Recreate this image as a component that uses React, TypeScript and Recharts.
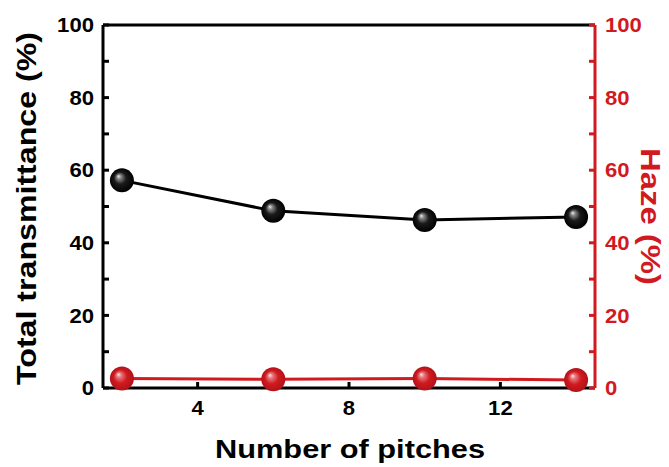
import { LineChart, Line, XAxis, YAxis, ReferenceLine, Label } from "recharts";

const pitches = [2, 6, 10, 14];
const transmittance = [57.2, 48.8, 46.3, 47.1];
const haze = [2.6, 2.4, 2.6, 2.2];

const xTicks = [4, 8, 12];
const yTicks = [0, 10, 20, 30, 40, 50, 60, 70, 80, 90, 100];
const yLabels = [0, 20, 40, 60, 80, 100];

const RED = "#d11a1f";
const FONT = '"Liberation Sans", Arial, sans-serif';

const chartData = pitches.map((p, i) => ({
  pitch: p,
  total: transmittance[i],
  haze: haze[i],
}));

// width of a tick number, the original font is a bit wider than Liberation
const numLen = (v: number) => String(v).length * 12.3;

const Sphere = (fill: string) => (props: any) => {
  const { cx, cy, index } = props;
  if (cx == null || cy == null) return <g key={index} />;
  return <circle key={index} cx={cx} cy={cy} r={12} fill={fill} />;
};

const XTick = (props: any) => {
  const { x, y, payload } = props;
  const v = payload.value;
  return (
    <g>
      <line x1={x} y1={y} x2={x} y2={y - 6} stroke="#000" strokeWidth={3} />
      <text x={x} y={y + 27} textAnchor="middle" fontFamily={FONT} fontWeight="bold" fontSize={20} fill="#000"
        textLength={numLen(v)} lengthAdjust="spacingAndGlyphs">
        {v}
      </text>
    </g>
  );
};

const LeftTick = (props: any) => {
  const { x, y, payload } = props;
  const v = payload.value;
  return (
    <g>
      <line x1={x} y1={y} x2={x + 6} y2={y} stroke="#000" strokeWidth={3} />
      {yLabels.includes(v) && (
        <text x={x - 9} y={y} dy="0.36em" textAnchor="end" fontFamily={FONT} fontWeight="bold" fontSize={20} fill="#000"
          textLength={numLen(v)} lengthAdjust="spacingAndGlyphs">
          {v}
        </text>
      )}
    </g>
  );
};

const RightTick = (props: any) => {
  const { x, y, payload } = props;
  const v = payload.value;
  return (
    <g>
      <line x1={x} y1={y} x2={x - 6} y2={y} stroke={RED} strokeWidth={3} />
      {yLabels.includes(v) && (
        <text x={x + 10} y={y} dy="0.36em" textAnchor="start" fontFamily={FONT} fontWeight="bold" fontSize={20} fill={RED}
          textLength={numLen(v)} lengthAdjust="spacingAndGlyphs">
          {v}
        </text>
      )}
    </g>
  );
};

const LeftTitle = (props: any) => {
  const vb = props.viewBox;
  const cx = vb.x + 26;
  const cy = vb.y + vb.height / 2 + 2;
  return (
    <text x={cx} y={cy} transform={`rotate(-90 ${cx} ${cy})`} textAnchor="middle" dy="0.36em" fontFamily={FONT} fontWeight="bold" fontSize={28} fill="#000"
      textLength={353} lengthAdjust="spacingAndGlyphs">
      Total transmittance (%)
    </text>
  );
};

const RightTitle = (props: any) => {
  const vb = props.viewBox;
  const cx = vb.x + 56;
  const cy = vb.y + vb.height / 2 + 10;
  return (
    <text x={cx} y={cy} transform={`rotate(90 ${cx} ${cy})`} textAnchor="middle" dy="0.36em" fontFamily={FONT} fontWeight="bold" fontSize={28} fill={RED}
      textLength={137} lengthAdjust="spacingAndGlyphs">
      Haze (%)
    </text>
  );
};

const BottomTitle = (props: any) => {
  const vb = props.viewBox;
  return (
    <text x={vb.x + vb.width / 2 + 1} y={vb.y + 70} textAnchor="middle" fontFamily={FONT} fontWeight="bold" fontSize={25} fill="#000"
      textLength={270} lengthAdjust="spacingAndGlyphs">
      Number of pitches
    </text>
  );
};

export default function App() {
  return (
    <div style={{ position: "absolute", left: 0, top: 0, background: "#fff" }}>
      <LineChart width={669} height={467} data={chartData} margin={{ top: 25, right: 0, bottom: 0, left: 0 }}>
        <defs>
          <radialGradient id="ballBlack" cx="50%" cy="50%" r="50%" fx="35%" fy="32%">
            <stop offset="0%" stopColor="#f0f0f0" />
            <stop offset="18%" stopColor="#888" />
            <stop offset="50%" stopColor="#1a1a1a" />
            <stop offset="100%" stopColor="#000" />
          </radialGradient>
          <radialGradient id="ballRed" cx="50%" cy="50%" r="50%" fx="35%" fy="32%">
            <stop offset="0%" stopColor="#fde8ea" />
            <stop offset="20%" stopColor="#e47a80" />
            <stop offset="55%" stopColor={RED} />
            <stop offset="100%" stopColor="#b0121a" />
          </radialGradient>
        </defs>
        <XAxis
          dataKey="pitch"
          type="number"
          domain={[1.5, 14.5]}
          ticks={xTicks}
          allowDataOverflow
          height={79}
          tickSize={0}
          tickMargin={0}
          tickLine={false}
          axisLine={{ stroke: "#000", strokeWidth: 3 }}
          tick={<XTick />}
          interval={0}
        >
          <Label content={<BottomTitle />} />
        </XAxis>
        <YAxis
          yAxisId="left"
          orientation="left"
          domain={[0, 100]}
          ticks={yTicks}
          width={103}
          tickSize={0}
          tickMargin={0}
          tickLine={false}
          axisLine={{ stroke: "#000", strokeWidth: 3 }}
          tick={<LeftTick />}
          interval={0}
        >
          <Label content={<LeftTitle />} />
        </YAxis>
        <YAxis
          yAxisId="right"
          orientation="right"
          domain={[0, 100]}
          ticks={yTicks}
          width={74}
          tickSize={0}
          tickMargin={0}
          tickLine={false}
          axisLine={{ stroke: RED, strokeWidth: 3 }}
          tick={<RightTick />}
          interval={0}
        >
          <Label content={<RightTitle />} />
        </YAxis>
        <ReferenceLine yAxisId="left" y={100} stroke="#000" strokeWidth={3} />
        <Line
          yAxisId="left"
          type="linear"
          dataKey="total"
          stroke="#000"
          strokeWidth={3}
          dot={Sphere("url(#ballBlack)")}
          activeDot={false}
          isAnimationActive={false}
        />
        <Line
          yAxisId="right"
          type="linear"
          dataKey="haze"
          stroke={RED}
          strokeWidth={3}
          dot={Sphere("url(#ballRed)")}
          activeDot={false}
          isAnimationActive={false}
        />
      </LineChart>
    </div>
  );
}
